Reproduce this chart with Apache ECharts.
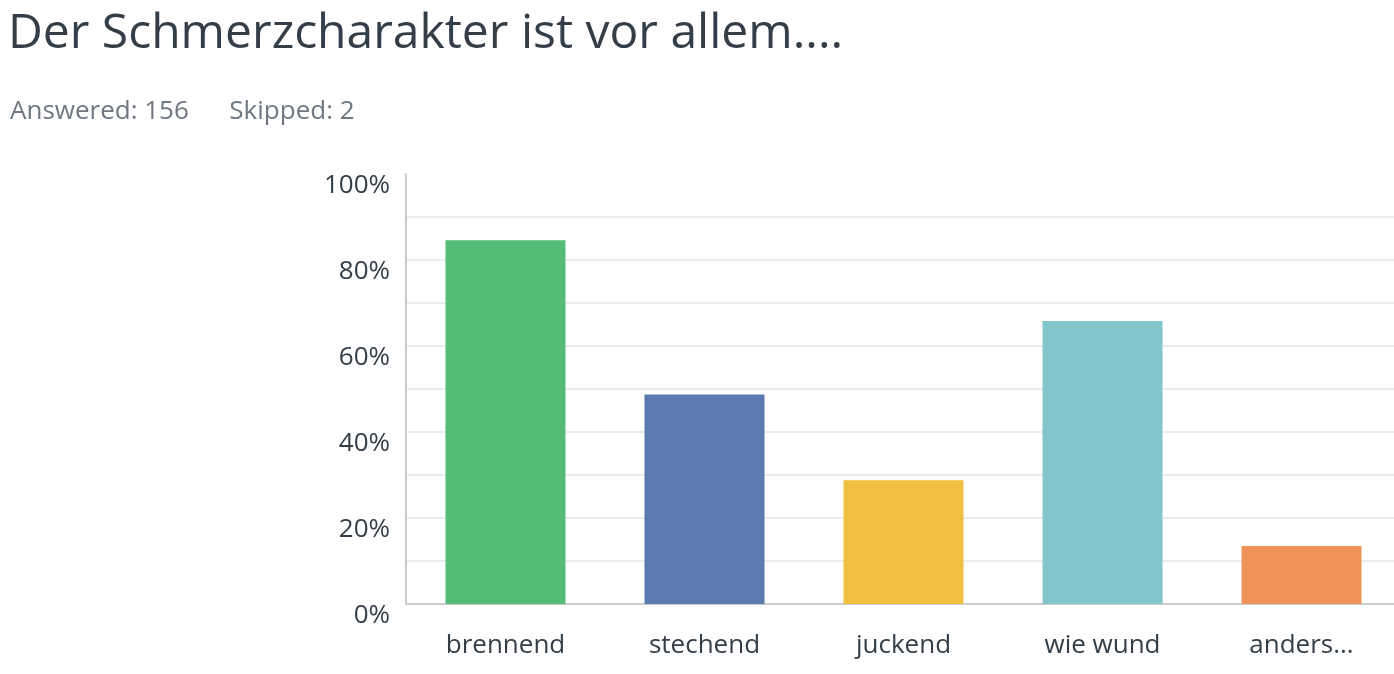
<!DOCTYPE html>
<html lang="de">
<head>
    <meta charset="UTF-8">
    <title>Der Schmerzcharakter ist vor allem....</title>
    <script src="https://cdn.jsdelivr.net/npm/echarts@6/dist/echarts.min.js"></script>
    <style>
        *{
            padding: 0;
            margin: 0;
        }
        html, body{
            width: 100%;
            height: 100%;
            overflow: hidden;
            background: #fff;
        }
        .echarts{
            width: 1404px;
            height: 674px;
        }
    </style>
</head>
<body>
<div class="echarts"></div>
<script>
    const categories = ['brennend', 'stechend', 'juckend', 'wie wund', 'anders...'];
    const values = [84.6, 48.7, 28.8, 65.8, 13.5];
    const colors = ['#53bd77', '#5a7ab0', '#f0bf41', '#82c5ca', '#f0935b'];
    const yTicks = [0, 20, 40, 60, 80, 100];

    window.onload = function () {
        let myCharts = echarts.init(document.querySelector('.echarts'));
        let font = '"Open Sans", sans-serif';

        let option = {
            backgroundColor: '#fff',
            animation: false,
            title: [
                {
                    text: 'Der Schmerzcharakter ist vor allem....',
                    left: 3,
                    top: 5,
                    textStyle: {color: '#333e48', fontSize: 48, fontWeight: 'normal', fontFamily: font}
                },
                {
                    text: 'Answered: 156      Skipped: 2',
                    left: 5,
                    top: 94,
                    textStyle: {color: '#6f7882', fontSize: 26, fontWeight: 'normal', fontFamily: font}
                }
            ],
            grid: {
                left: 406,
                top: 174,
                width: 995,
                height: 430
            },
            xAxis: {
                type: 'category',
                data: categories,
                axisTick: {show: false},
                axisLine: {lineStyle: {color: '#cccccc', width: 2}},
                axisLabel: {
                    color: '#333e48',
                    fontSize: 26,
                    fontFamily: font,
                    margin: 29
                }
            },
            yAxis: {
                type: 'value',
                min: 0,
                max: 100,
                interval: 10,
                axisLine: {show: true, lineStyle: {color: '#cccccc', width: 2}},
                axisTick: {show: false},
                splitLine: {
                    showMaxLine: false,
                    lineStyle: {color: '#ebebeb', width: 2}
                },
                axisLabel: {
                    color: '#333e48',
                    fontSize: 26,
                    fontFamily: font,
                    margin: 16,
                    verticalAlign: 'top',
                    lineHeight: 24,
                    formatter: function (v) {
                        return yTicks.includes(v) ? v + '%' : '';
                    }
                }
            },
            series: [{
                type: 'bar',
                data: values.map((v, i) => ({value: v, itemStyle: {color: colors[i]}})),
                barWidth: 120
            }]
        };
        myCharts.setOption(option);
    }
</script>
</body>
</html>
